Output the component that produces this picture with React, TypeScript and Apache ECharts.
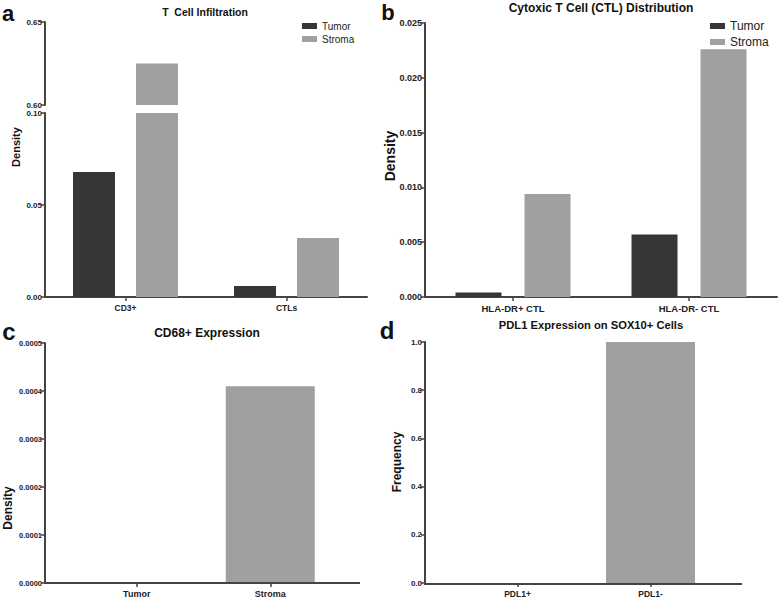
import React, { useEffect, useRef } from "react";
import * as echarts from "echarts";

const categoriesA = ["CD3+", "CTLs"];
const tumorA = [0.068, 0.006];
const stromaA = [0.625, 0.032];

const categoriesB = ["HLA-DR+ CTL", "HLA-DR- CTL"];
const tumorB = [0.0004, 0.0057];
const stromaB = [0.0094, 0.0226];

const categoriesC = ["Tumor", "Stroma"];
const valuesC = [0, 0.00041];

const categoriesD = ["PDL1+", "PDL1-"];
const valuesD = [0, 1.0];

const DARK = "#363636";
const GRAY = "#a0a0a0";
const AXIS = "#444";
const FONT = "Liberation Sans, Arial, sans-serif";

function yAx(gridIndex: number, min: number, max: number, interval: number, digits: number, fs: number, offset = 0): any {
  return {
    type: "value",
    gridIndex,
    min,
    max,
    interval,
    offset,
    splitLine: { show: false },
    axisLine: { show: true, onZero: false, lineStyle: { color: AXIS, width: 2 } },
    axisTick: { show: true, length: 4, lineStyle: { color: AXIS, width: 1.5 } },
    axisLabel: {
      fontFamily: FONT,
      fontWeight: "bold",
      fontSize: fs,
      color: "#222",
      margin: 3,
      formatter: (v: number) => v.toFixed(digits),
    },
  };
}

function xAx(gridIndex: number, data: string[], fs: number, showLine = true, show = true): any {
  return {
    type: "category",
    gridIndex,
    data,
    show,
    axisLine: { show: showLine, onZero: false, lineStyle: { color: AXIS, width: 2 } },
    axisTick: { show: true, alignWithLabel: true, length: 4, lineStyle: { color: AXIS, width: 1.5 } },
    axisLabel: { fontFamily: FONT, fontWeight: "bold", fontSize: fs, color: "#222", margin: 6 },
  };
}

function txt(text: string, x: number, y: number, fs: number, opts: any = {}): any {
  return {
    type: "text",
    x,
    y,
    rotation: opts.rotation || 0,
    style: {
      text,
      fontFamily: FONT,
      fontWeight: opts.weight || "bold",
      fontSize: fs,
      fill: "#111",
      textAlign: opts.align || "center",
      textVerticalAlign: "middle",
    },
  };
}

function hline(y: number, x1: number, x2: number): any {
  return { type: "line", z: 10, shape: { x1, y1: y, x2, y2: y }, style: { stroke: AXIS, lineWidth: 2 } };
}

export default function App() {
  const ref = useRef<HTMLDivElement>(null);
  useEffect(() => {
    document.body.style.margin = "0";
    const chart = echarts.init(ref.current!, null, { renderer: "svg" });
    const option: any = {
      animation: false,
      backgroundColor: "#fff",
      grid: [
        { left: 45, top: 22, width: 322, height: 83 },
        { left: 45, top: 113, width: 322, height: 184 },
        { left: 425, top: 23, width: 352, height: 274 },
        { left: 70, top: 343, width: 267, height: 240 },
        { left: 451, top: 342, width: 266, height: 242 },
      ],
      xAxis: [
        xAx(0, categoriesA, 8, false, false),
        xAx(1, categoriesA, 8.5),
        xAx(2, categoriesB, 9.5),
        xAx(3, categoriesC, 9, false),
        xAx(4, categoriesD, 8.5, false),
      ],
      yAxis: [
        yAx(0, 0.6, 0.65, 0.05, 2, 8),
        yAx(1, 0, 0.1, 0.05, 2, 8),
        yAx(2, 0, 0.025, 0.005, 3, 9),
        yAx(3, 0, 0.0005, 0.0001, 4, 7.5, 25),
        yAx(4, 0, 1, 0.2, 1, 8, 26),
      ],
      legend: [
        {
          data: ["Tumor", "Stroma"],
          orient: "vertical",
          left: 297,
          top: 16,
          itemWidth: 15,
          itemHeight: 6,
          itemGap: 3,
          icon: "rect",
          textStyle: { fontFamily: FONT, fontSize: 10, color: "#222" },
        },
        {
          data: ["Tumor", "Stroma"],
          orient: "vertical",
          left: 705,
          top: 15,
          itemWidth: 15,
          itemHeight: 6,
          itemGap: 4,
          icon: "rect",
          textStyle: { fontFamily: FONT, fontSize: 12, color: "#222" },
        },
      ],
      series: [
        { name: "Tumor", type: "bar", xAxisIndex: 0, yAxisIndex: 0, data: tumorA, barWidth: 42, barGap: "50%", itemStyle: { color: DARK }, clip: true },
        { name: "Stroma", type: "bar", xAxisIndex: 0, yAxisIndex: 0, data: stromaA, barWidth: 42, barGap: "50%", itemStyle: { color: GRAY }, clip: true },
        { name: "Tumor", type: "bar", xAxisIndex: 1, yAxisIndex: 1, data: tumorA, barWidth: 42, barGap: "50%", itemStyle: { color: DARK }, clip: true },
        { name: "Stroma", type: "bar", xAxisIndex: 1, yAxisIndex: 1, data: stromaA, barWidth: 42, barGap: "50%", itemStyle: { color: GRAY }, clip: true },
        { name: "Tumor", type: "bar", xAxisIndex: 2, yAxisIndex: 2, data: tumorB, barWidth: 46, barGap: "50%", itemStyle: { color: DARK } },
        { name: "Stroma", type: "bar", xAxisIndex: 2, yAxisIndex: 2, data: stromaB, barWidth: 46, barGap: "50%", itemStyle: { color: GRAY } },
        { name: "CD68+", type: "bar", xAxisIndex: 3, yAxisIndex: 3, data: valuesC, barWidth: 89, itemStyle: { color: GRAY } },
        { name: "SOX10+", type: "bar", xAxisIndex: 4, yAxisIndex: 4, data: valuesD, barWidth: 89, itemStyle: { color: GRAY } },
      ],
      graphic: [
        txt("a", 8, 13, 22),
        txt("b", 388, 12, 22),
        txt("c", 9, 331, 24),
        txt("d", 387, 330, 24),
        txt("T  Cell Infiltration", 205, 12, 10.5),
        txt("Cytoxic T Cell (CTL) Distribution", 601, 8, 12),
        txt("CD68+ Expression", 207, 333, 12),
        txt("PDL1 Expression on SOX10+ Cells", 591, 325, 11.2),
        txt("Density", 16, 147, 11, { rotation: Math.PI / 2 }),
        txt("Density", 390, 156, 14, { rotation: Math.PI / 2 }),
        txt("Density", 8, 508, 12, { rotation: Math.PI / 2 }),
        txt("Frequency", 397, 462, 12, { rotation: Math.PI / 2 }),
        hline(583, 44, 360),
        hline(584, 424, 742),
      ],
    };
    chart.setOption(option);
    return () => chart.dispose();
  }, []);
  return <div ref={ref} style={{ position: "fixed", left: 0, top: 0, width: 778, height: 598 }} />;
}
